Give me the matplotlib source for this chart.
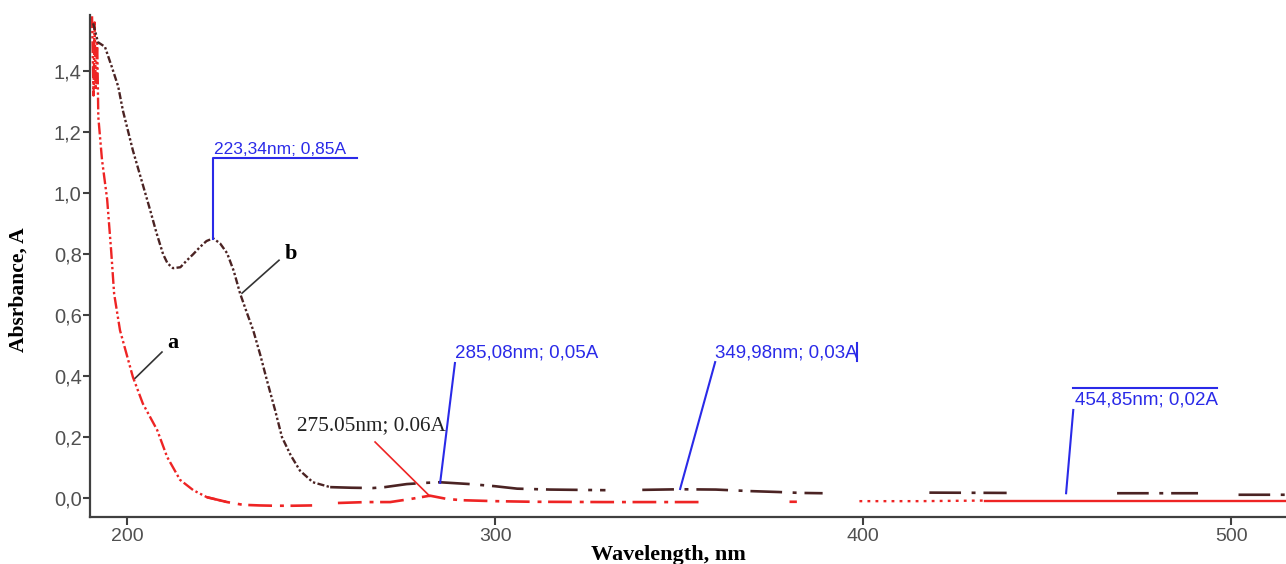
import numpy as np
import matplotlib
matplotlib.use("Agg")
import matplotlib.pyplot as plt

nan = np.nan

# curve a (red)
wl_a = [190.5, 190.9, 191.2, 191.5, 191.9, 192.2, 193.2, 194.6, 195.7, 196.5, 198.1,
        201.6, 204.3, 208.2, 210.9, 214.4, 218.0, 221.7, 227.2, 231.5, 236.0, 240.0,
        245.0, 250.3, 253.0, 257.3, 265.0, 271.5, 277.0, 282.3, 287.0, 291.3, 300.0,
        310.0, 330.0, 356.0, 368.0, 380.0, 382.0, 390.0, 399.0, 415.0, 433.0, 460.0,
        490.0, 515.0]
abs_a = [1.58, 1.32, 1.56, 1.34, 1.50, 1.25, 1.11, 0.98, 0.81, 0.67, 0.55,
         0.397, 0.31, 0.223, 0.135, 0.06, 0.026, 0.003, -0.013, -0.022, -0.024, -0.025,
         -0.025, -0.024, nan, -0.016, -0.013, -0.013, -0.003, 0.008, -0.003, -0.007, -0.010,
         -0.012, -0.013, -0.013, nan, -0.012, -0.012, nan, -0.010, -0.010, -0.008, -0.008,
         -0.008, -0.008]

# curve b (brown)
wl_b = [190.8, 192.1, 194.0, 195.9, 197.6, 198.9, 201.6, 204.0, 206.3, 208.0, 209.8,
        211.0, 212.5, 214.5, 216.3, 218.0, 219.8, 221.6, 223.4, 225.3, 227.2, 229.0,
        230.7, 232.5, 234.3, 236.2, 238.0, 240.2, 242.1, 244.5, 247.0, 250.5, 255.2,
        261.0, 266.8, 270.0, 276.0, 281.0, 285.0, 293.2, 300.0, 306.0, 315.0, 330.0,
        335.0, 340.0, 350.3, 360.0, 369.3, 377.0, 383.0, 389.0, 400.0, 418.0, 439.0,
        455.0, 469.0, 491.0, 497.0, 502.0, 515.0]
abs_b = [1.557, 1.495, 1.48, 1.413, 1.35, 1.27, 1.14, 1.04, 0.944, 0.87, 0.80,
         0.77, 0.754, 0.757, 0.78, 0.80, 0.823, 0.843, 0.852, 0.835, 0.803, 0.745,
         0.672, 0.61, 0.55, 0.47, 0.387, 0.29, 0.20, 0.14, 0.09, 0.052, 0.036,
         0.034, 0.033, 0.036, 0.046, 0.050, 0.052, 0.046, 0.039, 0.031, 0.028, 0.026,
         nan, 0.027, 0.029, 0.028, 0.023, 0.020, 0.017, 0.016, nan, 0.018, 0.017,
         nan, 0.016, 0.016, nan, 0.011, 0.011]

# peak labels (blue)
peaks = [(223.34, 0.85, "223,34nm; 0,85A"),
         (285.08, 0.05, "285,08nm; 0,05A"),
         (349.98, 0.03, "349,98nm; 0,03A"),
         (454.85, 0.02, "454,85nm; 0,02A")]

yticks = [0.0, 0.2, 0.4, 0.6, 0.8, 1.0, 1.2, 1.4]
xticks = [200, 300, 400, 500]

red = "#ee2424"
brown = "#4b2323"
blue = "#2a2ae8"

wa = np.array(wl_a)
aa = np.array(abs_a)
wb = np.array(wl_b)
bb = np.array(abs_b)

fig = plt.figure(figsize=(12.86, 5.64), dpi=100)
ax = fig.add_axes([0.070, 0.0833, 0.930, 0.890])


def seg(w, v, lo, hi):
    m = (w >= lo) & (w <= hi)
    return w[m], v[m]


# red curve a, pieces with different dash look
x, y = seg(wa, aa, 0, 227.2)
ax.plot(x, y, color=red, lw=1.7, ls=(0, (5, 1.2, 1, 1.2, 1, 1.2)))
x, y = seg(wa, aa, 221.7, 399)
ax.plot(x, y, color=red, lw=1.9, ls=(0, (9, 3, 1.5, 2.5)))
x, y = seg(wa, aa, 399, 433)
ax.plot(x, y, color=red, lw=1.7, ls=(0, (1.2, 2.2)))
x, y = seg(wa, aa, 433, 520)
ax.plot(x, y, color=red, lw=1.7)

# brown curve b
x, y = seg(wb, bb, 0, 255.2)
ax.plot(x, y, color=brown, lw=1.7, ls=(0, (3, 1, 1, 1, 1, 1)))
x, y = seg(wb, bb, 255.2, 520)
ax.plot(x, y, color=brown, lw=1.9, ls=(0, (12, 4, 1.5, 3)))

# blue peak markers
p = peaks[0]
ax.plot([p[0], p[0], 262.5], [p[1], 1.115, 1.115], color=blue, lw=1.5)
ax.text(p[0] + 0.2, 1.118, p[2], color=blue, fontsize=12.5,
        family="Liberation Sans", ha="left", va="bottom")

p = peaks[1]
ax.plot([p[0], 289.1], [p[1], 0.443], color=blue, lw=1.5)
ax.text(289.1, 0.475, p[2], color=blue, fontsize=13.5,
        family="Liberation Sans", ha="left", va="center")

p = peaks[2]
ax.plot([p[0] + 0.3, 359.8], [p[1], 0.446], color=blue, lw=1.5)
ax.text(359.8, 0.475, p[2], color=blue, fontsize=13.5,
        family="Liberation Sans", ha="left", va="center")
ax.plot([398.4, 398.4], [0.449, 0.508], color=blue, lw=1.5)

p = peaks[3]
ax.plot([p[0] + 0.3, 457.1], [p[1] - 0.004, 0.289], color=blue, lw=1.5)
ax.plot([457.1, 496.2], [0.361, 0.361], color=blue, lw=1.5)
ax.text(457.6, 0.321, p[2], color=blue, fontsize=13.5,
        family="Liberation Sans", ha="left", va="center")

# black label with red pointer
ax.text(246.2, 0.239, "275.05nm; 0.06A", color="#222222", fontsize=15.3,
        family="Liberation Serif", ha="left", va="center")
ax.plot([267.4, 282.3], [0.184, 0.006], color=red, lw=1.2)

# curve names
ax.plot([202.2, 209.5], [0.393, 0.479], color="#333333", lw=1.2)
ax.text(212.4, 0.507, "a", fontsize=16, fontweight="bold",
        family="Liberation Serif", ha="center", va="center")
ax.plot([231.25, 241.3], [0.672, 0.78], color="#333333", lw=1.2)
ax.text(244.6, 0.80, "b", fontsize=16, fontweight="bold",
        family="Liberation Serif", ha="center", va="center")

ax.set_xlim(189.95, 514.9)
ax.set_ylim(-0.062, 1.584)

ax.set_xticks(xticks)
ax.set_xticklabels([str(t) for t in xticks])
ax.set_yticks(yticks)
ax.set_yticklabels([f"{t:.1f}".replace(".", ",") for t in yticks])
for lab in ax.get_xticklabels() + ax.get_yticklabels():
    lab.set_family("Liberation Sans")
    lab.set_color("#505050")
ax.tick_params(axis="y", length=5, width=1.5, color="#404040", pad=1, labelsize=14.5)
ax.tick_params(axis="x", length=6, width=1.5, color="#404040", pad=2, labelsize=14)

for s in ["top", "right"]:
    ax.spines[s].set_visible(False)
for s in ["left", "bottom"]:
    ax.spines[s].set_color("#404040")
    ax.spines[s].set_linewidth(1.6)

ax.set_xlabel("Wavelength, nm", fontsize=16, fontweight="bold", family="Liberation Serif")
ax.set_ylabel("Absrbance, A", fontsize=15.5, fontweight="bold", family="Liberation Serif")
ax.xaxis.set_label_coords(0.484, -0.075)
ax.yaxis.set_label_coords(-0.060, 0.453)
ax.xaxis.label.set_va("center")
ax.yaxis.label.set_va("center")

fig.savefig("out.png", dpi=100)
